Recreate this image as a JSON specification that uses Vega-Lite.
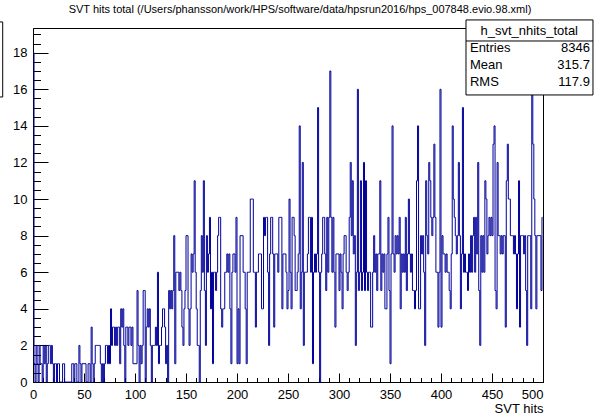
{
"$schema": "https://vega.github.io/schema/vega-lite/v6.json",
"width": 510, "height": 354,
"autosize": "none",
"padding": {"left": 33, "top": 28, "right": 56, "bottom": 34},
"background": "white",
"config": {
  "view": {"stroke": "black", "strokeWidth": 1},
  "font": "Liberation Sans",
  "axis": {"grid": false, "domainColor": "black", "tickColor": "black", "labelColor": "black", "labelFont": "Liberation Sans", "labelFontSize": 13, "titleFont": "Liberation Sans", "titleFontWeight": "normal", "titleFontSize": 13, "titleColor": "black"}
},
"title": {"text": "SVT hits total (/Users/phansson/work/HPS/software/data/hpsrun2016/hps_007848.evio.98.xml)", "fontSize": 11, "fontWeight": "normal", "font": "Liberation Sans", "color": "black", "anchor": "middle", "offset": 4, "dx": 12},
"resolve": {"axis": {"x": "independent", "y": "independent"}},
"datasets": {
 "hist": [
{"hits":0.5,"count":18},{"hits":1.5,"count":1},{"hits":2.5,"count":0},{"hits":3.5,"count":2},{"hits":4.5,"count":1},{"hits":5.5,"count":0},{"hits":6.5,"count":2},{"hits":7.5,"count":1},{"hits":8.5,"count":1},{"hits":9.5,"count":0},
{"hits":10.5,"count":2},{"hits":11.5,"count":1},{"hits":12.5,"count":2},{"hits":13.5,"count":0},{"hits":14.5,"count":1},{"hits":15.5,"count":2},{"hits":16.5,"count":2},{"hits":17.5,"count":1},{"hits":18.5,"count":2},{"hits":19.5,"count":1},
{"hits":20.5,"count":0},{"hits":21.5,"count":1},{"hits":22.5,"count":1},{"hits":23.5,"count":0},{"hits":24.5,"count":1},{"hits":25.5,"count":1},{"hits":26.5,"count":0},{"hits":27.5,"count":0},{"hits":28.5,"count":0},{"hits":29.5,"count":1},
{"hits":30.5,"count":1},{"hits":31.5,"count":0},{"hits":32.5,"count":0},{"hits":33.5,"count":0},{"hits":34.5,"count":0},{"hits":35.5,"count":0},{"hits":36.5,"count":0},{"hits":37.5,"count":0},{"hits":38.5,"count":1},{"hits":39.5,"count":1},
{"hits":40.5,"count":0},{"hits":41.5,"count":1},{"hits":42.5,"count":1},{"hits":43.5,"count":0},{"hits":44.5,"count":0},{"hits":45.5,"count":2},{"hits":46.5,"count":1},{"hits":47.5,"count":0},{"hits":48.5,"count":1},{"hits":49.5,"count":1},
{"hits":50.5,"count":1},{"hits":51.5,"count":1},{"hits":52.5,"count":0},{"hits":53.5,"count":0},{"hits":54.5,"count":1},{"hits":55.5,"count":1},{"hits":56.5,"count":0},{"hits":57.5,"count":3},{"hits":58.5,"count":1},{"hits":59.5,"count":0},
{"hits":60.5,"count":1},{"hits":61.5,"count":2},{"hits":62.5,"count":2},{"hits":63.5,"count":2},{"hits":64.5,"count":2},{"hits":65.5,"count":2},{"hits":66.5,"count":1},{"hits":67.5,"count":0},{"hits":68.5,"count":1},{"hits":69.5,"count":0},
{"hits":70.5,"count":1},{"hits":71.5,"count":2},{"hits":72.5,"count":2},{"hits":73.5,"count":1},{"hits":74.5,"count":2},{"hits":75.5,"count":1},{"hits":76.5,"count":4},{"hits":77.5,"count":2},{"hits":78.5,"count":3},{"hits":79.5,"count":3},
{"hits":80.5,"count":2},{"hits":81.5,"count":3},{"hits":82.5,"count":2},{"hits":83.5,"count":3},{"hits":84.5,"count":3},{"hits":85.5,"count":1},{"hits":86.5,"count":4},{"hits":87.5,"count":3},{"hits":88.5,"count":4},{"hits":89.5,"count":2},
{"hits":90.5,"count":0},{"hits":91.5,"count":3},{"hits":92.5,"count":3},{"hits":93.5,"count":2},{"hits":94.5,"count":3},{"hits":95.5,"count":3},{"hits":96.5,"count":2},{"hits":97.5,"count":3},{"hits":98.5,"count":1},{"hits":99.5,"count":1},
{"hits":100.5,"count":1},{"hits":101.5,"count":1},{"hits":102.5,"count":5},{"hits":103.5,"count":2},{"hits":104.5,"count":0},{"hits":105.5,"count":2},{"hits":106.5,"count":1},{"hits":107.5,"count":2},{"hits":108.5,"count":5},{"hits":109.5,"count":5},
{"hits":110.5,"count":0},{"hits":111.5,"count":3},{"hits":112.5,"count":4},{"hits":113.5,"count":3},{"hits":114.5,"count":4},{"hits":115.5,"count":2},{"hits":116.5,"count":0},{"hits":117.5,"count":2},{"hits":118.5,"count":2},{"hits":119.5,"count":2},
{"hits":120.5,"count":3},{"hits":121.5,"count":2},{"hits":122.5,"count":6},{"hits":123.5,"count":1},{"hits":124.5,"count":2},{"hits":125.5,"count":2},{"hits":126.5,"count":3},{"hits":127.5,"count":4},{"hits":128.5,"count":4},{"hits":129.5,"count":3},
{"hits":130.5,"count":1},{"hits":131.5,"count":2},{"hits":132.5,"count":0},{"hits":133.5,"count":5},{"hits":134.5,"count":4},{"hits":135.5,"count":5},{"hits":136.5,"count":4},{"hits":137.5,"count":5},{"hits":138.5,"count":8},{"hits":139.5,"count":1},
{"hits":140.5,"count":6},{"hits":141.5,"count":6},{"hits":142.5,"count":6},{"hits":143.5,"count":5},{"hits":144.5,"count":6},{"hits":145.5,"count":5},{"hits":146.5,"count":3},{"hits":147.5,"count":2},{"hits":148.5,"count":4},{"hits":149.5,"count":5},
{"hits":150.5,"count":8},{"hits":151.5,"count":8},{"hits":152.5,"count":4},{"hits":153.5,"count":2},{"hits":154.5,"count":4},{"hits":155.5,"count":7},{"hits":156.5,"count":6},{"hits":157.5,"count":7},{"hits":158.5,"count":11},{"hits":159.5,"count":6},
{"hits":160.5,"count":4},{"hits":161.5,"count":2},{"hits":162.5,"count":2},{"hits":163.5,"count":0},{"hits":164.5,"count":5},{"hits":165.5,"count":8},{"hits":166.5,"count":6},{"hits":167.5,"count":11},{"hits":168.5,"count":5},{"hits":169.5,"count":2},
{"hits":170.5,"count":8},{"hits":171.5,"count":6},{"hits":172.5,"count":7},{"hits":173.5,"count":9},{"hits":174.5,"count":4},{"hits":175.5,"count":6},{"hits":176.5,"count":1},{"hits":177.5,"count":6},{"hits":178.5,"count":6},{"hits":179.5,"count":5},
{"hits":180.5,"count":6},{"hits":181.5,"count":8},{"hits":182.5,"count":9},{"hits":183.5,"count":9},{"hits":184.5,"count":4},{"hits":185.5,"count":3},{"hits":186.5,"count":4},{"hits":187.5,"count":4},{"hits":188.5,"count":6},{"hits":189.5,"count":6},
{"hits":190.5,"count":7},{"hits":191.5,"count":6},{"hits":192.5,"count":7},{"hits":193.5,"count":4},{"hits":194.5,"count":1},{"hits":195.5,"count":6},{"hits":196.5,"count":7},{"hits":197.5,"count":7},{"hits":198.5,"count":6},{"hits":199.5,"count":9},
{"hits":200.5,"count":1},{"hits":201.5,"count":4},{"hits":202.5,"count":1},{"hits":203.5,"count":8},{"hits":204.5,"count":8},{"hits":205.5,"count":8},{"hits":206.5,"count":6},{"hits":207.5,"count":6},{"hits":208.5,"count":4},{"hits":209.5,"count":1},
{"hits":210.5,"count":6},{"hits":211.5,"count":6},{"hits":212.5,"count":6},{"hits":213.5,"count":10},{"hits":214.5,"count":10},{"hits":215.5,"count":10},{"hits":216.5,"count":6},{"hits":217.5,"count":6},{"hits":218.5,"count":3},{"hits":219.5,"count":6},
{"hits":220.5,"count":6},{"hits":221.5,"count":7},{"hits":222.5,"count":7},{"hits":223.5,"count":7},{"hits":224.5,"count":4},{"hits":225.5,"count":4},{"hits":226.5,"count":9},{"hits":227.5,"count":8},{"hits":228.5,"count":9},{"hits":229.5,"count":9},
{"hits":230.5,"count":6},{"hits":231.5,"count":2},{"hits":232.5,"count":7},{"hits":233.5,"count":9},{"hits":234.5,"count":9},{"hits":235.5,"count":7},{"hits":236.5,"count":3},{"hits":237.5,"count":7},{"hits":238.5,"count":7},{"hits":239.5,"count":7},
{"hits":240.5,"count":6},{"hits":241.5,"count":9},{"hits":242.5,"count":9},{"hits":243.5,"count":9},{"hits":244.5,"count":4},{"hits":245.5,"count":7},{"hits":246.5,"count":7},{"hits":247.5,"count":7},{"hits":248.5,"count":6},{"hits":249.5,"count":4},
{"hits":250.5,"count":5},{"hits":251.5,"count":10},{"hits":252.5,"count":6},{"hits":253.5,"count":4},{"hits":254.5,"count":9},{"hits":255.5,"count":9},{"hits":256.5,"count":8},{"hits":257.5,"count":5},{"hits":258.5,"count":5},{"hits":259.5,"count":6},
{"hits":260.5,"count":7},{"hits":261.5,"count":14},{"hits":262.5,"count":4},{"hits":263.5,"count":6},{"hits":264.5,"count":12},{"hits":265.5,"count":2},{"hits":266.5,"count":6},{"hits":267.5,"count":6},{"hits":268.5,"count":6},{"hits":269.5,"count":7},
{"hits":270.5,"count":9},{"hits":271.5,"count":9},{"hits":272.5,"count":6},{"hits":273.5,"count":9},{"hits":274.5,"count":1},{"hits":275.5,"count":6},{"hits":276.5,"count":7},{"hits":277.5,"count":6},{"hits":278.5,"count":7},{"hits":279.5,"count":15},
{"hits":280.5,"count":6},{"hits":281.5,"count":0},{"hits":282.5,"count":6},{"hits":283.5,"count":7},{"hits":284.5,"count":9},{"hits":285.5,"count":9},{"hits":286.5,"count":7},{"hits":287.5,"count":5},{"hits":288.5,"count":9},{"hits":289.5,"count":6},
{"hits":290.5,"count":9},{"hits":291.5,"count":17},{"hits":292.5,"count":9},{"hits":293.5,"count":6},{"hits":294.5,"count":9},{"hits":295.5,"count":6},{"hits":296.5,"count":3},{"hits":297.5,"count":7},{"hits":298.5,"count":7},{"hits":299.5,"count":7},
{"hits":300.5,"count":5},{"hits":301.5,"count":7},{"hits":302.5,"count":6},{"hits":303.5,"count":4},{"hits":304.5,"count":7},{"hits":305.5,"count":8},{"hits":306.5,"count":8},{"hits":307.5,"count":6},{"hits":308.5,"count":5},{"hits":309.5,"count":6},
{"hits":310.5,"count":9},{"hits":311.5,"count":12},{"hits":312.5,"count":8},{"hits":313.5,"count":11},{"hits":314.5,"count":7},{"hits":315.5,"count":8},{"hits":316.5,"count":2},{"hits":317.5,"count":6},{"hits":318.5,"count":16},{"hits":319.5,"count":5},
{"hits":320.5,"count":6},{"hits":321.5,"count":11},{"hits":322.5,"count":5},{"hits":323.5,"count":6},{"hits":324.5,"count":12},{"hits":325.5,"count":5},{"hits":326.5,"count":11},{"hits":327.5,"count":6},{"hits":328.5,"count":5},{"hits":329.5,"count":6},
{"hits":330.5,"count":6},{"hits":331.5,"count":3},{"hits":332.5,"count":3},{"hits":333.5,"count":6},{"hits":334.5,"count":8},{"hits":335.5,"count":6},{"hits":336.5,"count":7},{"hits":337.5,"count":5},{"hits":338.5,"count":7},{"hits":339.5,"count":7},
{"hits":340.5,"count":11},{"hits":341.5,"count":5},{"hits":342.5,"count":7},{"hits":343.5,"count":6},{"hits":344.5,"count":7},{"hits":345.5,"count":4},{"hits":346.5,"count":4},{"hits":347.5,"count":7},{"hits":348.5,"count":9},{"hits":349.5,"count":5},
{"hits":350.5,"count":1},{"hits":351.5,"count":7},{"hits":352.5,"count":14},{"hits":353.5,"count":7},{"hits":354.5,"count":6},{"hits":355.5,"count":8},{"hits":356.5,"count":7},{"hits":357.5,"count":8},{"hits":358.5,"count":7},{"hits":359.5,"count":9},
{"hits":360.5,"count":4},{"hits":361.5,"count":7},{"hits":362.5,"count":6},{"hits":363.5,"count":7},{"hits":364.5,"count":6},{"hits":365.5,"count":9},{"hits":366.5,"count":5},{"hits":367.5,"count":7},{"hits":368.5,"count":10},{"hits":369.5,"count":7},
{"hits":370.5,"count":6},{"hits":371.5,"count":7},{"hits":372.5,"count":5},{"hits":373.5,"count":5},{"hits":374.5,"count":4},{"hits":375.5,"count":5},{"hits":376.5,"count":11},{"hits":377.5,"count":14},{"hits":378.5,"count":4},{"hits":379.5,"count":4},
{"hits":380.5,"count":8},{"hits":381.5,"count":7},{"hits":382.5,"count":8},{"hits":383.5,"count":6},{"hits":384.5,"count":2},{"hits":385.5,"count":11},{"hits":386.5,"count":8},{"hits":387.5,"count":7},{"hits":388.5,"count":12},{"hits":389.5,"count":11},
{"hits":390.5,"count":9},{"hits":391.5,"count":8},{"hits":392.5,"count":9},{"hits":393.5,"count":13},{"hits":394.5,"count":9},{"hits":395.5,"count":6},{"hits":396.5,"count":6},{"hits":397.5,"count":3},{"hits":398.5,"count":6},{"hits":399.5,"count":16},
{"hits":400.5,"count":3},{"hits":401.5,"count":8},{"hits":402.5,"count":7},{"hits":403.5,"count":7},{"hits":404.5,"count":6},{"hits":405.5,"count":7},{"hits":406.5,"count":6},{"hits":407.5,"count":6},{"hits":408.5,"count":5},{"hits":409.5,"count":4},
{"hits":410.5,"count":7},{"hits":411.5,"count":14},{"hits":412.5,"count":10},{"hits":413.5,"count":9},{"hits":414.5,"count":8},{"hits":415.5,"count":7},{"hits":416.5,"count":8},{"hits":417.5,"count":12},{"hits":418.5,"count":8},{"hits":419.5,"count":4},
{"hits":420.5,"count":7},{"hits":421.5,"count":15},{"hits":422.5,"count":6},{"hits":423.5,"count":7},{"hits":424.5,"count":6},{"hits":425.5,"count":6},{"hits":426.5,"count":5},{"hits":427.5,"count":7},{"hits":428.5,"count":6},{"hits":429.5,"count":8},
{"hits":430.5,"count":6},{"hits":431.5,"count":8},{"hits":432.5,"count":9},{"hits":433.5,"count":6},{"hits":434.5,"count":9},{"hits":435.5,"count":7},{"hits":436.5,"count":12},{"hits":437.5,"count":5},{"hits":438.5,"count":2},{"hits":439.5,"count":8},
{"hits":440.5,"count":6},{"hits":441.5,"count":8},{"hits":442.5,"count":6},{"hits":443.5,"count":11},{"hits":444.5,"count":10},{"hits":445.5,"count":7},{"hits":446.5,"count":8},{"hits":447.5,"count":9},{"hits":448.5,"count":8},{"hits":449.5,"count":9},
{"hits":450.5,"count":8},{"hits":451.5,"count":13},{"hits":452.5,"count":14},{"hits":453.5,"count":5},{"hits":454.5,"count":4},{"hits":455.5,"count":12},{"hits":456.5,"count":8},{"hits":457.5,"count":8},{"hits":458.5,"count":7},{"hits":459.5,"count":8},
{"hits":460.5,"count":7},{"hits":461.5,"count":8},{"hits":462.5,"count":8},{"hits":463.5,"count":3},{"hits":464.5,"count":11},{"hits":465.5,"count":13},{"hits":466.5,"count":10},{"hits":467.5,"count":10},{"hits":468.5,"count":8},{"hits":469.5,"count":8},
{"hits":470.5,"count":8},{"hits":471.5,"count":7},{"hits":472.5,"count":8},{"hits":473.5,"count":7},{"hits":474.5,"count":4},{"hits":475.5,"count":7},{"hits":476.5,"count":11},{"hits":477.5,"count":3},{"hits":478.5,"count":8},{"hits":479.5,"count":8},
{"hits":480.5,"count":8},{"hits":481.5,"count":7},{"hits":482.5,"count":8},{"hits":483.5,"count":5},{"hits":484.5,"count":2},{"hits":485.5,"count":8},{"hits":486.5,"count":8},{"hits":487.5,"count":8},{"hits":488.5,"count":4},{"hits":489.5,"count":16},
{"hits":490.5,"count":13},{"hits":491.5,"count":10},{"hits":492.5,"count":8},{"hits":493.5,"count":4},{"hits":494.5,"count":8},{"hits":495.5,"count":8},{"hits":496.5,"count":8},{"hits":497.5,"count":8},{"hits":498.5,"count":5},{"hits":499.5,"count":9}
 ],
 "one": [{}]
},
"layer": [
 {
  "data": {"name": "hist"},
  "mark": {"type": "line", "interpolate": "step", "color": "#000099", "strokeWidth": 1},
  "encoding": {
   "x": {"field": "hits", "type": "quantitative", "scale": {"domain": [0, 500], "nice": false, "zero": false},
         "axis": {"orient": "bottom", "values": [0,50,100,150,200,250,300,350,400,450,500], "tickSize": -9, "labelPadding": 15, "labelFlush": false,
                  "labelAlign": {"condition": {"test": "datum.value == 500", "value": "right"}, "value": "center"},
                  "title": "SVT hits", "titleAnchor": "end", "titlePadding": 1}},
   "y": {"field": "count", "type": "quantitative", "scale": {"domain": [0, 19.35], "nice": false},
         "axis": {"orient": "left", "values": [0,2,4,6,8,10,12,14,16,18], "tickSize": -15, "labelPadding": 21, "title": null}}
  }
 },
 {
  "data": {"name": "one"},
  "mark": {"type": "rect", "fill": "white", "stroke": "black", "strokeWidth": 1},
  "encoding": {
   "x": {"datum": 424.5, "type": "quantitative",
         "axis": {"orient": "bottom", "values": [0,10,20,30,40,60,70,80,90,110,120,130,140,160,170,180,190,210,220,230,240,260,270,280,290,310,320,330,340,360,370,380,390,410,420,430,440,460,470,480,490], "tickSize": -4.5, "labels": false, "domain": false, "title": null}},
   "x2": {"datum": 549},
   "y": {"datum": 19.79, "type": "quantitative",
         "axis": {"orient": "left", "values": [0.5,1,1.5,2.5,3,3.5,4.5,5,5.5,6.5,7,7.5,8.5,9,9.5,10.5,11,11.5,12.5,13,13.5,14.5,15,15.5,16.5,17,17.5,18.5,19], "tickSize": -7.5, "labels": false, "domain": false, "title": null}},
   "y2": {"datum": 15.69}
  }
 },
 {
  "data": {"name": "one"},
  "mark": {"type": "rect", "fill": null, "stroke": "black", "strokeWidth": 1},
  "encoding": {
   "x": {"datum": -45, "type": "quantitative", "axis": null},
   "x2": {"datum": -29.7},
   "y": {"datum": 19.68, "type": "quantitative", "axis": null},
   "y2": {"datum": 15.58}
  }
 },
 {
  "data": {"name": "one"},
  "mark": {"type": "rule", "color": "black", "strokeWidth": 1},
  "encoding": {
   "x": {"datum": 424.5, "type": "quantitative", "axis": null},
   "x2": {"datum": 549},
   "y": {"datum": 18.64, "type": "quantitative", "axis": null}
  }
 },
 {
  "data": {"name": "one"},
  "mark": {"type": "text", "text": "h_svt_nhits_total", "align": "center", "baseline": "middle", "fontSize": 13, "font": "Liberation Sans", "color": "black"},
  "encoding": {"x": {"datum": 486.5, "type": "quantitative", "axis": null}, "y": {"datum": 19.19, "type": "quantitative", "axis": null}}
 },
 {
  "data": {"name": "one"},
  "mark": {"type": "text", "text": "Entries", "align": "left", "baseline": "middle", "fontSize": 13, "font": "Liberation Sans", "color": "black"},
  "encoding": {"x": {"datum": 428.4, "type": "quantitative", "axis": null}, "y": {"datum": 18.26, "type": "quantitative", "axis": null}}
 },
 {
  "data": {"name": "one"},
  "mark": {"type": "text", "text": "8346", "align": "right", "baseline": "middle", "fontSize": 13, "font": "Liberation Sans", "color": "black"},
  "encoding": {"x": {"datum": 546, "type": "quantitative", "axis": null}, "y": {"datum": 18.26, "type": "quantitative", "axis": null}}
 },
 {
  "data": {"name": "one"},
  "mark": {"type": "text", "text": "Mean", "align": "left", "baseline": "middle", "fontSize": 13, "font": "Liberation Sans", "color": "black"},
  "encoding": {"x": {"datum": 428.4, "type": "quantitative", "axis": null}, "y": {"datum": 17.33, "type": "quantitative", "axis": null}}
 },
 {
  "data": {"name": "one"},
  "mark": {"type": "text", "text": "315.7", "align": "right", "baseline": "middle", "fontSize": 13, "font": "Liberation Sans", "color": "black"},
  "encoding": {"x": {"datum": 546, "type": "quantitative", "axis": null}, "y": {"datum": 17.33, "type": "quantitative", "axis": null}}
 },
 {
  "data": {"name": "one"},
  "mark": {"type": "text", "text": "RMS", "align": "left", "baseline": "middle", "fontSize": 13, "font": "Liberation Sans", "color": "black"},
  "encoding": {"x": {"datum": 428.4, "type": "quantitative", "axis": null}, "y": {"datum": 16.40, "type": "quantitative", "axis": null}}
 },
 {
  "data": {"name": "one"},
  "mark": {"type": "text", "text": "117.9", "align": "right", "baseline": "middle", "fontSize": 13, "font": "Liberation Sans", "color": "black"},
  "encoding": {"x": {"datum": 546, "type": "quantitative", "axis": null}, "y": {"datum": 16.40, "type": "quantitative", "axis": null}}
 }
]
}
